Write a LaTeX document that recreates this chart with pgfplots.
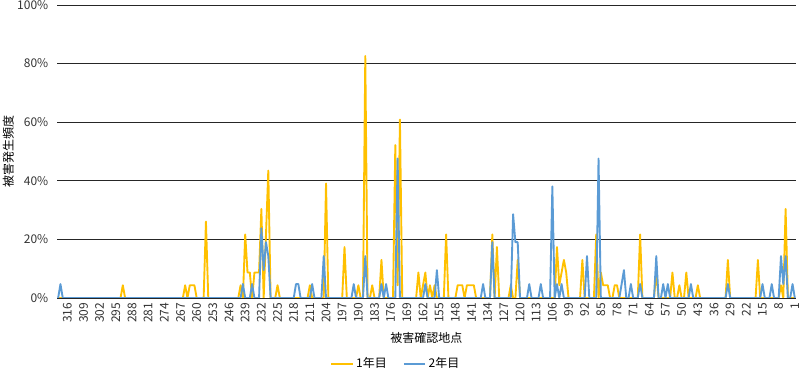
\documentclass[border=0pt]{standalone}
\usepackage{fontspec}
\setmainfont{Noto Sans CJK JP}
\usepackage{pgfplots}
\pgfplotsset{compat=1.18}
\definecolor{yel}{HTML}{FFC000}
\definecolor{blu}{HTML}{5B9BD5}
\begin{document}
\begin{tikzpicture}
\path[use as bounding box] (0pt,0pt) rectangle (600pt,278.25pt);
\begin{axis}[
  at={(42.75pt,54.75pt)}, anchor=south west,
  scale only axis, width=554.25pt, height=219.75pt,
  xmin=0.5, xmax=320.5, x dir=reverse,
  ymin=0, ymax=100,
  xtick={1,8,...,316},
  ytick={0,20,...,100},
  yticklabel={\pgfmathprintnumber{\tick}\%},
  /pgf/number format/assume math mode=true,
  ymajorgrids, major grid style={black!85, line width=0.7pt},
  axis line style={draw=none},
  major tick length=0pt,
  tick label style={font=\fontsize{9}{10}\selectfont, text=black!80},
  xticklabel style={rotate=90, anchor=east, xshift=0pt},
  yticklabel style={anchor=east, xshift=-3pt},
  every axis x label/.style={at={(axis description cs:0.5,-0.137)}, anchor=center, font=\fontsize{9}{10}\selectfont},
  every axis y label/.style={at={(axis description cs:-0.066,0.5)}, anchor=center, rotate=90, font=\fontsize{9}{10}\selectfont},
  xlabel={被害確認地点},
  ylabel={被害発生頻度},
  legend style={at={(axis description cs:0.459,-0.225)}, anchor=center, draw=none, fill=none,
    legend columns=2, font=\fontsize{9}{10}\selectfont,
    /tikz/every even column/.append style={column sep=10pt}},
  legend image code/.code={\draw[#1] (0pt,0pt) -- (16pt,0pt);},
  line join=round,
]
\addplot[yel, line width=1.4pt] coordinates {
(1,0)(4,0)(5,30.4)(6,0)(7,4.35)(8,0)
(16,0)(17,13.0)(18,0)
(29,0)(30,13.0)(31,0)
(42,0)(43,4.35)(44,0)
(47,0)(48,8.7)(49,0)
(50,0)(51,4.35)(52,0)
(53,0)(54,8.7)(55,0)
(60,0)(61,8.7)(62,0)
(67,0)(68,21.7)(69,0)
(77,0)(78,4.35)(79,4.35)(80,0)
(81,0)(82,4.35)(83,4.35)(84,4.35)(85,8.7)(86,0)(87,21.7)(88,0)
(92,0)(93,13.0)(94,0)
(99,0)(100,8.7)(101,13.0)(102,8.7)(103,4.35)(104,17.4)(105,0)
(120,0)(121,13.0)(122,0)
(123,0)(124,4.35)(125,0)
(129,0)(130,17.4)(131,0)(132,21.7)(133,0)
(139,0)(140,4.35)(141,4.35)(142,4.35)(143,4.35)(144,0)(145,4.35)(146,4.35)(147,4.35)(148,0)
(151,0)(152,21.7)(153,0)
(156,0)(157,4.35)(158,0)(159,4.35)(160,0)(161,8.7)(162,4.35)(163,0)(164,8.7)(165,0)
(171,0)(172,60.9)(173,4.35)(174,52.2)(175,0)
(179,0)(180,13.0)(181,0)
(183,0)(184,4.35)(185,0)
(186,0)(187,82.6)(188,0)
(189,0)(190,4.35)(191,0)
(195,0)(196,17.4)(197,0)
(203,0)(204,39.1)(205,0)
(210,0)(211,4.35)(212,0)
(224,0)(225,4.35)(226,0)
(228,0)(229,43.5)(230,21.7)(231,0)(232,30.4)(233,8.7)(234,8.7)(235,8.7)(236,0)(237,8.7)(238,8.7)(239,21.7)(240,0)(241,4.35)(242,0)
(255,0)(256,26.1)(257,0)
(260,0)(261,4.35)(262,4.35)(263,4.35)(264,0)(265,4.35)(266,0)
(291,0)(292,4.35)(293,0)
(320,0)
};
\addlegendentry{1年目}
\addplot[blu, line width=1.4pt] coordinates {
(1,0)(2,4.76)(3,0)
(4,0)(5,14.3)(6,4.76)(7,14.3)(8,0)
(10,0)(11,4.76)(12,0)
(14,0)(15,4.76)(16,0)
(29,0)(30,4.76)(31,0)
(45,0)(46,4.76)(47,0)
(55,0)(56,4.76)(57,0)(58,4.76)(59,0)
(60,0)(61,14.3)(62,0)
(67,0)(68,4.76)(69,0)
(71,0)(72,4.76)(73,0)
(74,0)(75,9.52)(76,4.76)(77,0)
(85,0)(86,47.6)(87,0)
(90,0)(91,14.3)(92,0)
(101,0)(102,4.76)(103,0)(104,4.76)(105,0)(106,38.1)(107,0)
(110,0)(111,4.76)(112,0)
(115,0)(116,4.76)(117,0)
(120,0)(121,19.05)(122,19.05)(123,28.6)(124,0)
(131,0)(132,19.05)(133,0)
(135,0)(136,4.76)(137,0)
(155,0)(156,9.52)(157,0)
(160,0)(161,4.76)(162,0)
(172,0)(173,47.6)(174,0)
(177,0)(178,4.76)(179,0)(180,4.76)(181,0)
(186,0)(187,14.3)(188,0)
(191,0)(192,4.76)(193,0)
(204,0)(205,14.3)(206,0)
(209,0)(210,4.76)(211,0)
(215,0)(216,4.76)(217,4.76)(218,0)
(228,0)(229,14.3)(230,19.05)(231,9.52)(232,23.8)(233,0)
(235,0)(236,4.76)(237,0)
(239,0)(240,4.76)(241,0)
(318,0)(319,4.76)(320,0)
};
\addlegendentry{2年目}
\end{axis}
\end{tikzpicture}
\end{document}
